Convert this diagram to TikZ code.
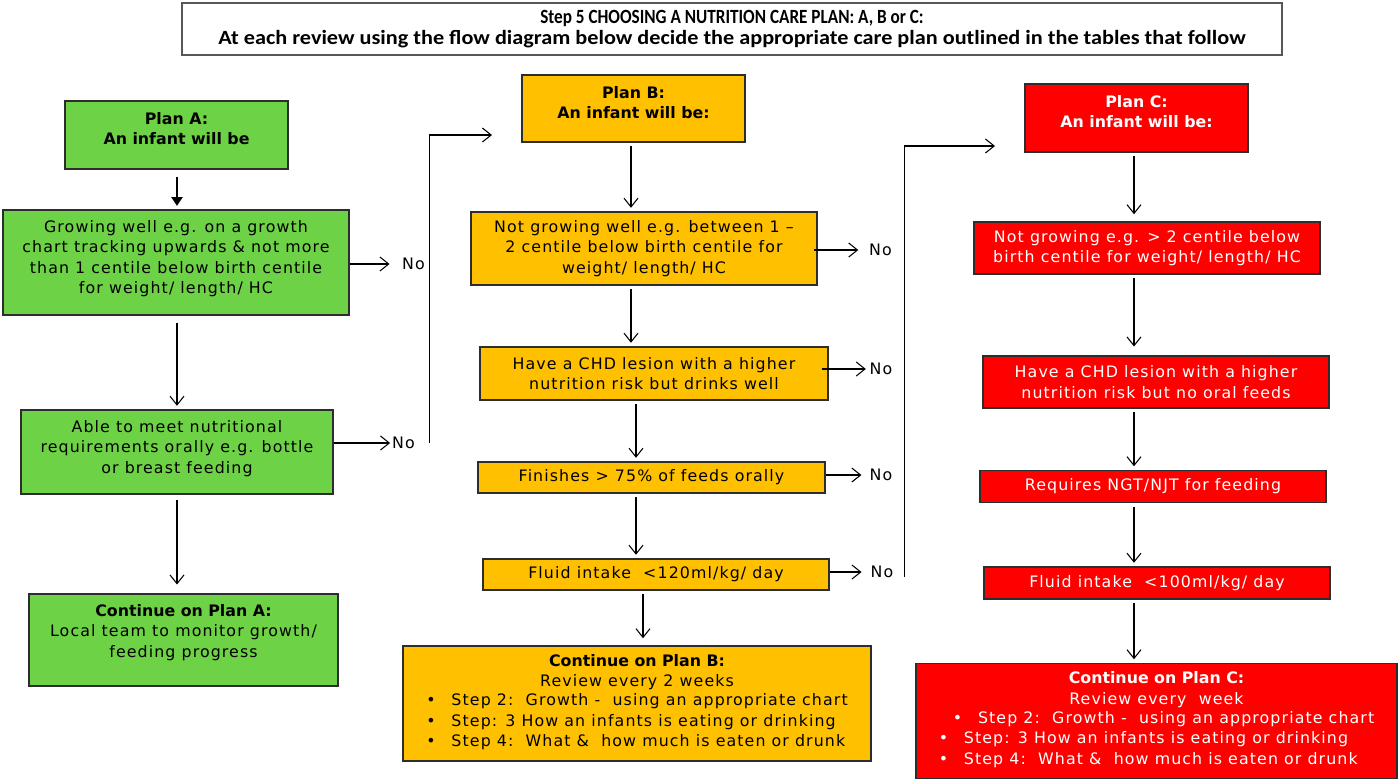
\documentclass[tikz,border=0pt]{standalone}
\usepackage{fontspec}
\setmainfont{DejaVu Sans}[LetterSpace=7, BoldFeatures={LetterSpace=0}]
\newfontfamily\titlefont{Carlito}
\usetikzlibrary{arrows.meta}
\definecolor{planA}{RGB}{110,210,70}
\definecolor{planB}{RGB}{255,192,0}
\definecolor{planC}{RGB}{255,0,0}
\definecolor{edge}{RGB}{45,45,45}
\newcommand{\px}{0.02cm}
\newcommand{\lift}[1]{\\[#1]\strut}
\tikzset{
  box/.style={draw=edge, line width=0.8pt, inner sep=0pt, align=center,
    font=\fontsize{9}{11.6}\selectfont},
  boxA/.style={box, fill=planA},
  boxB/.style={box, fill=planB},
  boxC/.style={box, fill=planC, text=white},
  no/.style={inner sep=0pt, font=\fontsize{9}{11}\selectfont},
  flow/.style={->, line width=0.6pt, shorten <=2pt, shorten >=2pt},
  >={Straight Barb[length=5pt,width=8pt]},
}
\begin{document}
\begin{tikzpicture}[x=\px, y=-\px]
        \useasboundingbox (0,0) rectangle (1400,782);
        \node [draw=edge!80, line width=0.9pt, minimum width=1100*\px, minimum height=52*\px,
          align=center, font=\titlefont\bfseries\fontsize{11.5}{11.9}\selectfont] (title) at (732,29)
          {\scalebox{0.85}[1]{Step 5 CHOOSING A NUTRITION CARE PLAN: A, B or C:}\\
           \scalebox{1.1}[1]{At each review using the flow diagram below decide the appropriate care plan outlined in the tables that follow}};

        \node [boxA, minimum width=223*\px, minimum height=68*\px] (Ah) at (176.5,135)
          {\bfseries Plan A:\\\bfseries An infant will be\lift{-8pt}};
        \node [boxA, minimum width=346*\px, minimum height=105*\px] (A1) at (176,262.5)
          {Growing well e.g. on a growth\\chart tracking upwards \& not more\\than 1 centile below birth centile\\for weight/ length/ HC\lift{-9pt}};
        \node [boxA, minimum width=312*\px, minimum height=84*\px] (A2) at (177,452)
          {Able to meet nutritional\\requirements orally e.g. bottle\\or breast feeding\lift{-9pt}};
        \node [boxA, minimum width=309*\px, minimum height=92*\px] (A3) at (183.5,640)
          {\bfseries Continue on Plan A:\\Local team to monitor growth/\\feeding progress\lift{-4.6pt}};

        \node [boxB, minimum width=223*\px, minimum height=67*\px] (Bh) at (633.5,108.5)
          {\bfseries Plan B:\\\bfseries An infant will be:\lift{-8pt}};
        \node [boxB, minimum width=346*\px, minimum height=73*\px] (B1) at (644,248.5)
          {Not growing well e.g. between 1 --\\2 centile below birth centile for\\weight/ length/ HC};
        \node [boxB, minimum width=348*\px, minimum height=53*\px] (B2) at (654,373.5)
          {Have a CHD lesion with a higher\\nutrition risk but drinks well};
        \node [boxB, minimum width=347*\px, minimum height=31*\px] (B3) at (651.5,477.5)
          {Finishes > 75\% of feeds orally};
        \node [boxB, minimum width=346*\px, minimum height=31*\px] (B4) at (656,574.5)
          {Fluid intake \ <120ml/kg/ day};
        \node [boxB, minimum width=468*\px, minimum height=115*\px] (B5) at (637,703.5)
          {\bfseries Continue on Plan B:\\Review every 2 weeks\\
           \begin{tabular}{@{}l@{}}
           \textbullet\hspace{9pt}Step 2:\ \ Growth -\ \ using an appropriate chart\\
           \textbullet\hspace{9pt}Step: 3 How an infants is eating or drinking\\
           \textbullet\hspace{9pt}Step 4:\ \ What \&\ \ how much is eaten or drunk
           \end{tabular}};

        \node [boxC, minimum width=223*\px, minimum height=68*\px] (Ch) at (1136.5,118)
          {\bfseries Plan C:\\\bfseries An infant will be:\lift{-8pt}};
        \node [boxC, minimum width=346*\px, minimum height=52*\px] (C1) at (1147,248)
          {Not growing e.g. > 2 centile below\\birth centile for weight/ length/ HC};
        \node [boxC, minimum width=346*\px, minimum height=52*\px] (C2) at (1156,382)
          {Have a CHD lesion with a higher\\nutrition risk but no oral feeds};
        \node [boxC, minimum width=346*\px, minimum height=32*\px] (C3) at (1153,486.5)
          {Requires NGT/NJT for feeding};
        \node [boxC, minimum width=346*\px, minimum height=32*\px] (C4) at (1157,583)
          {Fluid intake \ <100ml/kg/ day};
        \node [boxC, minimum width=481*\px, minimum height=115*\px] (C5) at (1156.5,721)
          {\bfseries Continue on Plan C:\\Review every\ \ week\\
           \begin{tabular}{@{}l@{}}
           \hspace{8pt}\textbullet\hspace{9pt}Step 2:\ \ Growth -\ \ using an appropriate chart\\
           \textbullet\hspace{9pt}Step: 3 How an infants is eating or drinking\\
           \textbullet\hspace{9pt}Step 4:\ \ What \&\ \ how much is eaten or drunk
           \end{tabular}};

        \node [no] (noA1) at (413.5,264) {No};
        \node [no] (noA2) at (403.5,443) {No};
        \node [no] (noB1) at (880.5,250) {No};
        \node [no] (noB2) at (881,369) {No};
        \node [no] (noB3) at (881,475) {No};
        \node [no] (noB4) at (882,572) {No};

        \coordinate (colA) at (177,0);
        \coordinate (colB) at (631,0);
        \coordinate (colB2) at (636,0);
        \coordinate (colB3) at (643,0);
        \coordinate (colC) at (1134,0);
        \coordinate (inB) at (492,135);
        \coordinate (inC) at (995,146);

        \draw [flow, -{Triangle[length=5pt,width=6.5pt]}, shorten <=4pt] (Ah.south -| colA) -- (A1.north -| colA);
        \draw [flow, shorten <=4pt] (A1.south -| colA) -- (A2.north -| colA);
        \draw [flow, shorten <=3pt, shorten >=5pt] (A2.south -| colA) -- (A3.north -| colA);
        \draw [flow] (Bh.south -| colB) -- (B1.north -| colB);
        \draw [flow] (B1.south -| colB) -- (B2.north -| colB);
        \draw [flow] (B2.south -| colB2) -- (B3.north -| colB2);
        \draw [flow] (B3.south -| colB2) -- (B4.north -| colB2);
        \draw [flow, shorten >=4pt] (B4.south -| colB3) -- (B5.north -| colB3);
        \draw [flow, shorten >=4pt] (Ch.south -| colC) -- (C1.north -| colC);
        \draw [flow, shorten >=5pt] (C1.south -| colC) -- (C2.north -| colC);
        \draw [flow] (C2.south -| colC) -- (C3.north -| colC);
        \draw [flow] (C3.south -| colC) -- (C4.north -| colC);
        \draw [flow] (C4.south -| colC) -- (C5.north -| colC);

        \draw [flow, shorten <=0pt, shorten >=7pt] (A1.east |- noA1) -- (noA1);
        \draw [flow, shorten <=0pt, shorten >=1pt] (A2.east |- noA2) -- (noA2);
        \draw [flow, shorten <=-2pt, shorten >=6pt] (B1.east |- noB1) -- (noB1);
        \draw [flow, shorten <=-4pt, shorten >=2pt] (B2.east |- noB2) -- (noB2);
        \draw [flow, shorten <=0pt, shorten >=4.5pt] (B3.east |- noB3) -- (noB3);
        \draw [flow, shorten <=0pt, shorten >=5pt] (B4.east |- noB4) -- (noB4);

        \draw [->, line width=0.6pt] ([xshift=8pt]noA2.east) |- (inB);
        \draw [->, line width=0.6pt] ([xshift=6pt, yshift=-5*\px]noB4.east) |- (inC);
\end{tikzpicture}
\end{document}
